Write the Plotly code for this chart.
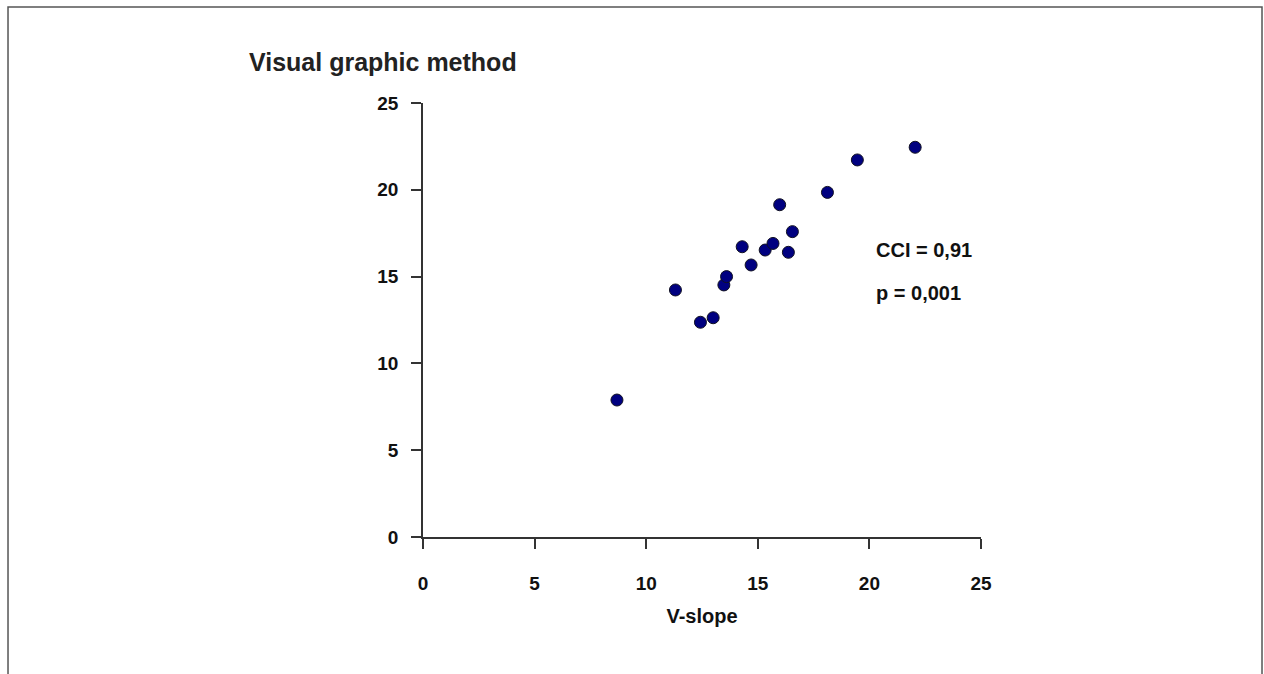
import plotly.graph_objects as go

# Data
v_slope = [8.69, 11.31, 12.43, 13.00, 13.48, 13.60, 14.30, 14.70, 15.33, 15.68, 15.98, 16.37, 16.55, 18.12, 19.46, 22.05]
visual = [7.89, 14.23, 12.37, 12.63, 14.52, 15.00, 16.72, 15.67, 16.53, 16.91, 19.14, 16.40, 17.59, 19.85, 21.72, 22.45]
tick_vals = [0, 5, 10, 15, 20, 25]
tick_text = ["0", "5", "10", "15", "20", "25"]
title_text = "Visual graphic method"
x_title = "V-slope"
stat_lines = ["CCI = 0,91", "p = 0,001"]
stat_pos_x = 20.2
stat_pos_y = [16.53, 14.05]

font_fam = "Liberation Sans, Arial, sans-serif"
axis_col = "#333333"
text_col = "#111111"

fig = go.Figure()
fig.add_trace(go.Scatter(
    x=v_slope, y=visual, mode="markers",
    marker=dict(size=12, color="#000080", line=dict(color="#111122", width=1)),
    showlegend=False, cliponaxis=False,
))

axis_common = dict(
    range=[0, 25], tickmode="array", tickvals=tick_vals, ticktext=tick_text,
    showgrid=False, zeroline=False, showline=True, linecolor=axis_col, linewidth=1.5,
    ticks="outside", ticklen=10, tickwidth=1.5, tickcolor=axis_col,
    tickfont=dict(family=font_fam, size=19, color=text_col, weight="bold"),
)

fig.update_xaxes(**axis_common, ticklabelstandoff=18,
                 title=dict(text=x_title, font=dict(family=font_fam, size=20, color=text_col, weight="bold"), standoff=16))
fig.update_yaxes(**axis_common, ticklabelstandoff=9)

for txt, yy in zip(stat_lines, stat_pos_y):
    fig.add_annotation(x=stat_pos_x, y=yy, xref="x", yref="y", text=txt, showarrow=False,
                       xanchor="left", yanchor="middle",
                       font=dict(family=font_fam, size=20, color=text_col, weight="bold"))

fig.add_annotation(x=-0.3154, y=1.0945, xref="paper", yref="paper", text=title_text, showarrow=False,
                   xanchor="left", yanchor="middle",
                   font=dict(family=font_fam, size=25, color="#222222", weight="bold"))

# Frame around the figure (open at the bottom, as in the reference)
fig.add_shape(type="rect", xref="paper", yref="paper",
              x0=-0.7437, x1=1.5036, y0=-0.36, y1=1.2212,
              line=dict(color="#555555", width=1.5), fillcolor="rgba(0,0,0,0)", layer="below")

fig.update_layout(
    width=1264, height=674,
    margin=dict(l=423, r=283, t=103, b=137),
    paper_bgcolor="white", plot_bgcolor="white",
)

# remove the default 8px page margin so the 1264x674 figure fills the window exactly
fig.write_html(
    "out.html",
    config={"displayModeBar": False},
    post_script="document.body.style.margin='0';document.documentElement.style.overflow='hidden';",
)
